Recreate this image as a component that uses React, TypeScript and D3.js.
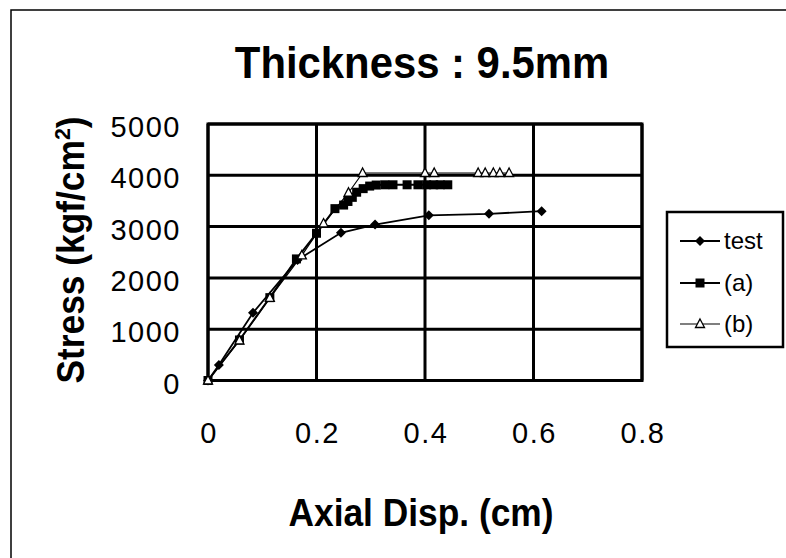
import React from "react";
import * as d3 from "d3";

const testX = [0, 0.02, 0.083, 0.165, 0.245, 0.308, 0.407, 0.518, 0.615];
const testY = [0, 300, 1320, 2350, 2880, 3040, 3220, 3250, 3300];

const aX = [0, 0.058, 0.114, 0.163, 0.2, 0.234, 0.25, 0.258, 0.266, 0.274, 0.286, 0.298, 0.31, 0.326, 0.341, 0.367, 0.387, 0.403, 0.416, 0.428, 0.442];
const aY = [0, 790, 1615, 2370, 2870, 3350, 3420, 3490, 3570, 3670, 3740, 3790, 3810, 3815, 3815, 3815, 3815, 3815, 3815, 3815, 3815];

const bX = [0, 0.058, 0.114, 0.173, 0.213, 0.259, 0.285, 0.4, 0.417, 0.498, 0.511, 0.526, 0.538, 0.555];
const bY = [0, 780, 1610, 2440, 3060, 3660, 4045, 4045, 4045, 4045, 4045, 4045, 4045, 4045];

const xTicks = [0, 0.2, 0.4, 0.6, 0.8];
const xTickLabels = ["0", "0.2", "0.4", "0.6", "0.8"];
const yTicks = [0, 1000, 2000, 3000, 4000, 5000];
const yTickLabels = ["0", "1000", "2000", "3000", "4000", "5000"];
const seriesNames = ["test", "(a)", "(b)"];

const FONT = "'Liberation Sans', Arial, Helvetica, sans-serif";

export default function App() {
  const W = 786, H = 558;
  const left = 208, right = 642, top = 124, bottom = 380.5;
  const x = d3.scaleLinear().domain([0, 0.8]).range([left, right]);
  const y = d3.scaleLinear().domain([0, 5000]).range([bottom, top]);
  const line = d3.line<[number, number]>().x(d => x(d[0])).y(d => y(d[1]));
  const toPts = (xs: number[], ys: number[]) => xs.map((v, i) => [v, ys[i]] as [number, number]);
  const test = toPts(testX, testY);
  const a = toPts(aX, aY);
  const b = toPts(bX, bY);

  const diamond = (cx: number, cy: number, k: string | number) => (
    <path key={k} d={`M${cx},${cy - 5}L${cx + 5},${cy}L${cx},${cy + 5}L${cx - 5},${cy}Z`} fill="#000" />
  );
  const square = (cx: number, cy: number, k: string | number) => (
    <rect key={k} x={cx - 4.5} y={cy - 4.5} width={9} height={9} fill="#000" />
  );
  const tri = (cx: number, cy: number, k: string | number) => (
    <path key={k} d={`M${cx},${cy - 5}L${cx + 4.5},${cy + 3.5}L${cx - 4.5},${cy + 3.5}Z`} fill="#fff" stroke="#000" strokeWidth={1.3} />
  );

  const legendY = [241, 283, 324];

  return (
    <svg width={W} height={H} style={{ position: "absolute", left: 0, top: 0, background: "#fff" }} fontFamily={FONT}>
      <rect x={0} y={0} width={W} height={H} fill="#fff" />
      {/* outer frame */}
      <rect x={11} y={10} width={900} height={700} fill="none" stroke="#000" strokeWidth={1.5} />

      {/* title */}
      <text transform="translate(422,78) scale(0.93,1)" textAnchor="middle" fontSize={45} fontWeight="bold">Thickness : 9.5mm</text>

      {/* grid */}
      {yTicks.map(t => (
        <line key={"gy" + t} x1={left} x2={right} y1={y(t)} y2={y(t)} stroke="#000" strokeWidth={3} />
      ))}
      {xTicks.map(t => (
        <line key={"gx" + t} x1={x(t)} x2={x(t)} y1={top} y2={bottom} stroke="#000" strokeWidth={3} />
      ))}
      <rect x={left} y={top} width={right - left} height={bottom - top} fill="none" stroke="#000" strokeWidth={3} />

      {/* tick labels */}
      {yTicks.map((t, i) => (
        <text key={"yl" + t} x={181} y={y(t) + 13} textAnchor="end" fontSize={29} letterSpacing={1.5}>{yTickLabels[i]}</text>
      ))}
      {xTicks.map((t, i) => (
        <text key={"xl" + t} x={x(t) + 1} y={443} textAnchor="middle" fontSize={29} letterSpacing={1.5}>{xTickLabels[i]}</text>
      ))}

      {/* axis titles */}
      <text transform="translate(421,526) scale(0.93,1)" textAnchor="middle" fontSize={38} fontWeight="bold">Axial Disp. (cm)</text>
      <text transform={`translate(84,250) rotate(-90) scale(0.93,1)`} textAnchor="middle" fontSize={38} fontWeight="bold">
        Stress (kgf/cm<tspan dy={-14} fontSize={23}>2</tspan><tspan dy={14}>)</tspan>
      </text>

      {/* series */}
      <path d={line(b) || ""} fill="none" stroke="#000" strokeWidth={1.2} />
      <path d={line(a) || ""} fill="none" stroke="#000" strokeWidth={2} />
      <path d={line(test) || ""} fill="none" stroke="#000" strokeWidth={1.8} />
      {a.map((p, i) => square(x(p[0]), y(p[1]), "a" + i))}
      {test.map((p, i) => diamond(x(p[0]), y(p[1]), "t" + i))}
      {b.map((p, i) => tri(x(p[0]), y(p[1]), "b" + i))}

      {/* legend */}
      <rect x={667} y={212} width={116} height={135} fill="#fff" stroke="#000" strokeWidth={2.5} />
      {seriesNames.map((n, i) => (
        <g key={n}>
          <line x1={680} x2={720} y1={legendY[i]} y2={legendY[i]} stroke="#000" strokeWidth={i === 2 ? 1.2 : 1.8} />
          {i === 0 ? diamond(700, legendY[i], "ld") : i === 1 ? square(700, legendY[i], "ls") : tri(700, legendY[i], "lt")}
          <text x={724} y={legendY[i] + 8} fontSize={24}>{n}</text>
        </g>
      ))}
    </svg>
  );
}
